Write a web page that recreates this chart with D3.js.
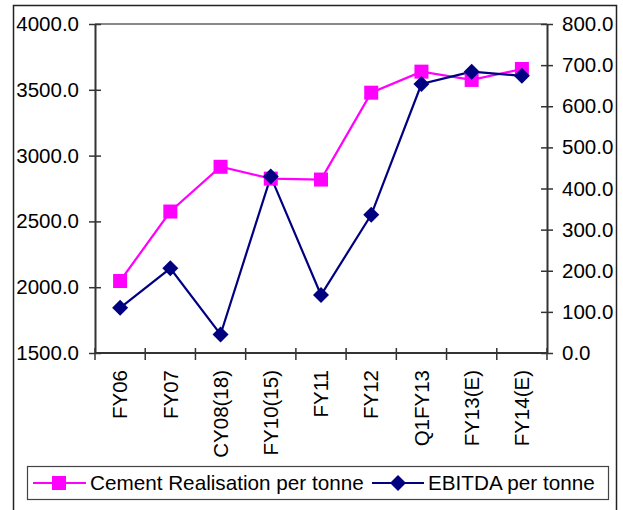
<!DOCTYPE html>
<html>
<head>
<meta charset="utf-8">
<script src="https://cdn.jsdelivr.net/npm/d3@7"></script>
<style>
  html, body { margin: 0; padding: 0; background: #fff; }
  svg text { font-family: "Liberation Sans", Arial, sans-serif; fill: #000; }
</style>
</head>
<body>
<svg id="chart" width="623" height="510"></svg>
<script>
const categories = ["FY06", "FY07", "CY08(18)", "FY10(15)", "FY11", "FY12", "Q1FY13", "FY13(E)", "FY14(E)"];
const cementRealisation = [2047, 2575, 2915, 2825, 2818, 3478, 3638, 3575, 3658];
const ebitda = [110, 206, 45, 429, 141, 336, 654, 684, 674];
const leftTicks = [1500, 2000, 2500, 3000, 3500, 4000];
const rightTicks = [0, 100, 200, 300, 400, 500, 600, 700, 800];
const seriesNames = ["Cement Realisation per tonne", "EBITDA per tonne"];

const svg = d3.select("#chart");
const plot = { left: 95, right: 547, top: 24, bottom: 353 };
const axisColor = "#333";
const magenta = "#FF00FF", navy = "#000080";
const fontSize = 20.5;

// outer frame
svg.append("rect").attr("x", 13.5).attr("y", 5.5).attr("width", 603).attr("height", 520)
  .attr("fill", "none").attr("stroke", "#222").attr("stroke-width", 1.5);

const x = d3.scaleBand().domain(categories).range([plot.left, plot.right]).padding(0);
const yL = d3.scaleLinear().domain([1500, 4000]).range([plot.bottom, plot.top]);
const yR = d3.scaleLinear().domain([0, 800]).range([plot.bottom, plot.top]);
const cx = d => x(d) + x.bandwidth() / 2;

// top border line
svg.append("line").attr("x1", plot.left).attr("x2", plot.right)
  .attr("y1", plot.top).attr("y2", plot.top)
  .attr("stroke", "#888").attr("stroke-width", 2);

// left axis
const gL = svg.append("g").attr("transform", `translate(${plot.left},0)`)
  .call(d3.axisLeft(yL).tickValues(leftTicks).tickFormat(d3.format(".1f")).tickSizeOuter(0).tickSizeInner(6).tickPadding(10));
gL.select(".domain").attr("stroke", axisColor).attr("stroke-width", 2);
gL.selectAll(".tick line").attr("x1", 6).attr("x2", -6).attr("stroke", axisColor).attr("stroke-width", 1.5);
gL.selectAll(".tick text").attr("x", -16).attr("font-size", fontSize).style("font-family", "Liberation Sans, Arial, sans-serif").attr("fill", "#000");

// right axis
const gR = svg.append("g").attr("transform", `translate(${plot.right},0)`)
  .call(d3.axisRight(yR).tickValues(rightTicks).tickFormat(d3.format(".1f")).tickSizeOuter(0).tickSizeInner(6).tickPadding(10));
gR.select(".domain").attr("stroke", axisColor).attr("stroke-width", 2);
gR.selectAll(".tick line").attr("x1", -6).attr("x2", 6).attr("stroke", axisColor).attr("stroke-width", 1.5);
gR.selectAll(".tick text").attr("x", 15).attr("font-size", fontSize).style("font-family", "Liberation Sans, Arial, sans-serif").attr("fill", "#000");

// bottom axis
const gB = svg.append("g").attr("transform", `translate(0,${plot.bottom})`);
gB.append("line").attr("x1", plot.left).attr("x2", plot.right).attr("y1", 0).attr("y2", 0)
  .attr("stroke", axisColor).attr("stroke-width", 2);
const bandEdges = categories.map(c => x(c)).concat([plot.right]);
gB.selectAll("line.tk").data(bandEdges).enter().append("line").attr("class", "tk")
  .attr("x1", d => d).attr("x2", d => d).attr("y1", -5).attr("y2", 7)
  .attr("stroke", axisColor).attr("stroke-width", 1.5);
gB.selectAll("text.lbl").data(categories).enter().append("text").attr("class", "lbl")
  .attr("transform", d => `translate(${cx(d)},17) rotate(-90)`)
  .attr("text-anchor", "end").attr("dy", "0.35em").attr("font-size", fontSize)
  .text(d => d);

// lines
const lineL = d3.line().x((d, i) => cx(categories[i])).y(d => yL(d));
const lineR = d3.line().x((d, i) => cx(categories[i])).y(d => yR(d));
svg.append("path").datum(cementRealisation).attr("d", lineL)
  .attr("fill", "none").attr("stroke", magenta).attr("stroke-width", 2.2);
svg.append("path").datum(ebitda).attr("d", lineR)
  .attr("fill", "none").attr("stroke", navy).attr("stroke-width", 2.2);

const sq = 14, dm = 8;
const diamond = (px, py, r) => `M${px},${py - r}L${px + r},${py}L${px},${py + r}L${px - r},${py}Z`;

svg.selectAll("rect.mk").data(cementRealisation).enter().append("rect").attr("class", "mk")
  .attr("x", (d, i) => cx(categories[i]) - sq / 2).attr("y", d => yL(d) - sq / 2)
  .attr("width", sq).attr("height", sq).attr("fill", magenta);
svg.selectAll("path.mk").data(ebitda).enter().append("path").attr("class", "mk")
  .attr("d", (d, i) => diamond(cx(categories[i]), yR(d), dm)).attr("fill", navy);

// legend
const lg = svg.append("g");
lg.append("rect").attr("x", 27.5).attr("y", 466.5).attr("width", 581).attr("height", 33)
  .attr("fill", "#fff").attr("stroke", "#444").attr("stroke-width", 1.2);
const ly = 483;
lg.append("line").attr("x1", 33).attr("x2", 86).attr("y1", ly).attr("y2", ly).attr("stroke", magenta).attr("stroke-width", 2.2);
lg.append("rect").attr("x", 59 - sq / 2).attr("y", ly - sq / 2).attr("width", sq).attr("height", sq).attr("fill", magenta);
lg.append("text").attr("x", 90).attr("y", ly).attr("dy", "0.35em").attr("font-size", fontSize + 0.2).text(seriesNames[0]);
lg.append("line").attr("x1", 372).attr("x2", 424).attr("y1", ly).attr("y2", ly).attr("stroke", navy).attr("stroke-width", 2.2);
lg.append("path").attr("d", diamond(398, ly, dm)).attr("fill", navy);
lg.append("text").attr("x", 428).attr("y", ly).attr("dy", "0.35em").attr("font-size", fontSize + 0.2).text(seriesNames[1]);
</script>
</body>
</html>
